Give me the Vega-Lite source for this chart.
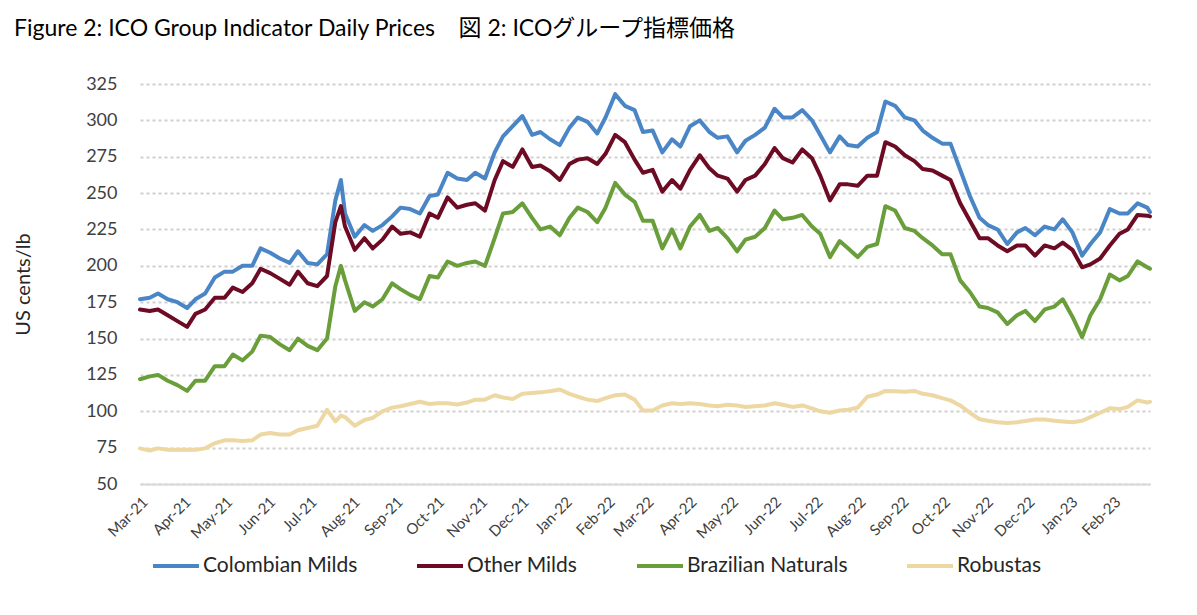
{
  "$schema": "https://vega.github.io/schema/vega-lite/v6.json",
  "width": 1010,
  "height": 400,
  "autosize": {"type": "none"},
  "padding": {"left": 140, "top": 84, "right": 47, "bottom": 131},
  "background": "white",
  "title": {
    "text": "Figure 2: ICO Group Indicator Daily Prices\u00a0\u00a0\u00a0\u00a0図 2: ICOグループ指標価格",
    "anchor": "start",
    "frame": "group",
    "dx": -126,
    "dy": 31,
    "offset": 47,
    "baseline": "alphabetic",
    "font": "Lato, Noto Sans CJK JP",
    "fontSize": 23,
    "fontWeight": "normal",
    "color": "#000000"
  },
  "data": {
    "values": [
      {"date": "2021-03-01", "Colombian Milds": 177, "Other Milds": 170, "Brazilian Naturals": 122, "Robustas": 74.5},
      {"date": "2021-03-08", "Colombian Milds": 178, "Other Milds": 169, "Brazilian Naturals": 124, "Robustas": 73},
      {"date": "2021-03-14", "Colombian Milds": 181, "Other Milds": 170, "Brazilian Naturals": 125, "Robustas": 74.5},
      {"date": "2021-03-21", "Colombian Milds": 177, "Other Milds": 166, "Brazilian Naturals": 121, "Robustas": 73.6},
      {"date": "2021-03-28", "Colombian Milds": 175, "Other Milds": 162, "Brazilian Naturals": 118, "Robustas": 73.6},
      {"date": "2021-04-04", "Colombian Milds": 171, "Other Milds": 158, "Brazilian Naturals": 114, "Robustas": 73.5},
      {"date": "2021-04-10", "Colombian Milds": 177, "Other Milds": 167, "Brazilian Naturals": 121, "Robustas": 73.6},
      {"date": "2021-04-17", "Colombian Milds": 181, "Other Milds": 170, "Brazilian Naturals": 121, "Robustas": 74.5},
      {"date": "2021-04-24", "Colombian Milds": 192, "Other Milds": 178, "Brazilian Naturals": 131, "Robustas": 78},
      {"date": "2021-05-01", "Colombian Milds": 196, "Other Milds": 178, "Brazilian Naturals": 131, "Robustas": 80},
      {"date": "2021-05-07", "Colombian Milds": 196, "Other Milds": 185, "Brazilian Naturals": 139, "Robustas": 80},
      {"date": "2021-05-14", "Colombian Milds": 200, "Other Milds": 182, "Brazilian Naturals": 135, "Robustas": 79.5},
      {"date": "2021-05-21", "Colombian Milds": 200, "Other Milds": 188, "Brazilian Naturals": 141, "Robustas": 80},
      {"date": "2021-05-27", "Colombian Milds": 212, "Other Milds": 198, "Brazilian Naturals": 152, "Robustas": 84},
      {"date": "2021-06-03", "Colombian Milds": 209, "Other Milds": 195, "Brazilian Naturals": 151, "Robustas": 85},
      {"date": "2021-06-10", "Colombian Milds": 205, "Other Milds": 191, "Brazilian Naturals": 146, "Robustas": 84},
      {"date": "2021-06-17", "Colombian Milds": 202, "Other Milds": 187, "Brazilian Naturals": 142, "Robustas": 84},
      {"date": "2021-06-23", "Colombian Milds": 210, "Other Milds": 196, "Brazilian Naturals": 150, "Robustas": 87},
      {"date": "2021-06-30", "Colombian Milds": 202, "Other Milds": 188, "Brazilian Naturals": 145, "Robustas": 88.5},
      {"date": "2021-07-07", "Colombian Milds": 201, "Other Milds": 186, "Brazilian Naturals": 142, "Robustas": 90},
      {"date": "2021-07-14", "Colombian Milds": 208, "Other Milds": 193, "Brazilian Naturals": 150, "Robustas": 101},
      {"date": "2021-07-20", "Colombian Milds": 245, "Other Milds": 230, "Brazilian Naturals": 186, "Robustas": 93},
      {"date": "2021-07-24", "Colombian Milds": 259, "Other Milds": 241, "Brazilian Naturals": 200, "Robustas": 97},
      {"date": "2021-07-27", "Colombian Milds": 236, "Other Milds": 227, "Brazilian Naturals": 190, "Robustas": 96},
      {"date": "2021-08-03", "Colombian Milds": 220, "Other Milds": 211, "Brazilian Naturals": 169, "Robustas": 90},
      {"date": "2021-08-10", "Colombian Milds": 228, "Other Milds": 219, "Brazilian Naturals": 175, "Robustas": 94},
      {"date": "2021-08-16", "Colombian Milds": 224, "Other Milds": 212, "Brazilian Naturals": 172, "Robustas": 95.5},
      {"date": "2021-08-23", "Colombian Milds": 228, "Other Milds": 218, "Brazilian Naturals": 177, "Robustas": 100},
      {"date": "2021-08-30", "Colombian Milds": 234, "Other Milds": 227, "Brazilian Naturals": 188, "Robustas": 102.5},
      {"date": "2021-09-05", "Colombian Milds": 240, "Other Milds": 222, "Brazilian Naturals": 184, "Robustas": 103.5},
      {"date": "2021-09-12", "Colombian Milds": 239, "Other Milds": 223, "Brazilian Naturals": 180, "Robustas": 105},
      {"date": "2021-09-19", "Colombian Milds": 236, "Other Milds": 220, "Brazilian Naturals": 177, "Robustas": 106.5},
      {"date": "2021-09-26", "Colombian Milds": 248, "Other Milds": 236, "Brazilian Naturals": 193, "Robustas": 105},
      {"date": "2021-10-02", "Colombian Milds": 249, "Other Milds": 233, "Brazilian Naturals": 192, "Robustas": 105.5},
      {"date": "2021-10-09", "Colombian Milds": 264, "Other Milds": 247, "Brazilian Naturals": 203, "Robustas": 105.5},
      {"date": "2021-10-16", "Colombian Milds": 260, "Other Milds": 240, "Brazilian Naturals": 200, "Robustas": 104.7},
      {"date": "2021-10-23", "Colombian Milds": 259, "Other Milds": 242, "Brazilian Naturals": 202, "Robustas": 106},
      {"date": "2021-10-29", "Colombian Milds": 264, "Other Milds": 243, "Brazilian Naturals": 203, "Robustas": 108},
      {"date": "2021-11-05", "Colombian Milds": 260, "Other Milds": 238, "Brazilian Naturals": 200, "Robustas": 108},
      {"date": "2021-11-12", "Colombian Milds": 278, "Other Milds": 259, "Brazilian Naturals": 219, "Robustas": 111},
      {"date": "2021-11-18", "Colombian Milds": 289, "Other Milds": 272, "Brazilian Naturals": 236, "Robustas": 109.5},
      {"date": "2021-11-25", "Colombian Milds": 296, "Other Milds": 268, "Brazilian Naturals": 237, "Robustas": 108.5},
      {"date": "2021-12-02", "Colombian Milds": 303, "Other Milds": 280, "Brazilian Naturals": 243, "Robustas": 112},
      {"date": "2021-12-09", "Colombian Milds": 290, "Other Milds": 268, "Brazilian Naturals": 233, "Robustas": 112.6},
      {"date": "2021-12-15", "Colombian Milds": 292, "Other Milds": 269, "Brazilian Naturals": 225, "Robustas": 113},
      {"date": "2021-12-22", "Colombian Milds": 287, "Other Milds": 265, "Brazilian Naturals": 227, "Robustas": 113.8},
      {"date": "2021-12-29", "Colombian Milds": 283, "Other Milds": 259, "Brazilian Naturals": 221, "Robustas": 115},
      {"date": "2022-01-05", "Colombian Milds": 295, "Other Milds": 270, "Brazilian Naturals": 233, "Robustas": 112},
      {"date": "2022-01-11", "Colombian Milds": 302, "Other Milds": 273, "Brazilian Naturals": 240, "Robustas": 110},
      {"date": "2022-01-18", "Colombian Milds": 299, "Other Milds": 274, "Brazilian Naturals": 237, "Robustas": 108},
      {"date": "2022-01-25", "Colombian Milds": 291, "Other Milds": 270, "Brazilian Naturals": 230, "Robustas": 107},
      {"date": "2022-01-31", "Colombian Milds": 302, "Other Milds": 277, "Brazilian Naturals": 240, "Robustas": 109},
      {"date": "2022-02-07", "Colombian Milds": 318, "Other Milds": 290, "Brazilian Naturals": 257, "Robustas": 111},
      {"date": "2022-02-14", "Colombian Milds": 310, "Other Milds": 285, "Brazilian Naturals": 249, "Robustas": 111.5},
      {"date": "2022-02-21", "Colombian Milds": 307, "Other Milds": 273, "Brazilian Naturals": 244, "Robustas": 108},
      {"date": "2022-02-27", "Colombian Milds": 292, "Other Milds": 264, "Brazilian Naturals": 231, "Robustas": 100.5},
      {"date": "2022-03-06", "Colombian Milds": 293, "Other Milds": 266, "Brazilian Naturals": 231, "Robustas": 100.5},
      {"date": "2022-03-13", "Colombian Milds": 278, "Other Milds": 251, "Brazilian Naturals": 212, "Robustas": 104},
      {"date": "2022-03-20", "Colombian Milds": 287, "Other Milds": 259, "Brazilian Naturals": 225, "Robustas": 105.5},
      {"date": "2022-03-26", "Colombian Milds": 282, "Other Milds": 253, "Brazilian Naturals": 212, "Robustas": 105},
      {"date": "2022-04-02", "Colombian Milds": 296, "Other Milds": 266, "Brazilian Naturals": 227, "Robustas": 105.5},
      {"date": "2022-04-09", "Colombian Milds": 300, "Other Milds": 276, "Brazilian Naturals": 235, "Robustas": 105},
      {"date": "2022-04-16", "Colombian Milds": 292, "Other Milds": 267, "Brazilian Naturals": 224, "Robustas": 104},
      {"date": "2022-04-22", "Colombian Milds": 288, "Other Milds": 262, "Brazilian Naturals": 226, "Robustas": 103.5},
      {"date": "2022-04-29", "Colombian Milds": 289, "Other Milds": 260, "Brazilian Naturals": 219, "Robustas": 104.5},
      {"date": "2022-05-06", "Colombian Milds": 278, "Other Milds": 251, "Brazilian Naturals": 210, "Robustas": 104},
      {"date": "2022-05-12", "Colombian Milds": 286, "Other Milds": 259, "Brazilian Naturals": 218, "Robustas": 103},
      {"date": "2022-05-19", "Colombian Milds": 290, "Other Milds": 262, "Brazilian Naturals": 220, "Robustas": 103.5},
      {"date": "2022-05-26", "Colombian Milds": 295, "Other Milds": 270, "Brazilian Naturals": 226, "Robustas": 104},
      {"date": "2022-06-02", "Colombian Milds": 308, "Other Milds": 281, "Brazilian Naturals": 238, "Robustas": 105.5},
      {"date": "2022-06-08", "Colombian Milds": 302, "Other Milds": 274, "Brazilian Naturals": 232, "Robustas": 104.5},
      {"date": "2022-06-15", "Colombian Milds": 302, "Other Milds": 271, "Brazilian Naturals": 233, "Robustas": 103},
      {"date": "2022-06-22", "Colombian Milds": 307, "Other Milds": 280, "Brazilian Naturals": 235, "Robustas": 104},
      {"date": "2022-06-29", "Colombian Milds": 300, "Other Milds": 274, "Brazilian Naturals": 227, "Robustas": 102},
      {"date": "2022-07-05", "Colombian Milds": 290, "Other Milds": 262, "Brazilian Naturals": 222, "Robustas": 100},
      {"date": "2022-07-12", "Colombian Milds": 278, "Other Milds": 245, "Brazilian Naturals": 206, "Robustas": 99},
      {"date": "2022-07-19", "Colombian Milds": 289, "Other Milds": 256, "Brazilian Naturals": 217, "Robustas": 100.5},
      {"date": "2022-07-25", "Colombian Milds": 283, "Other Milds": 256, "Brazilian Naturals": 212, "Robustas": 101},
      {"date": "2022-08-01", "Colombian Milds": 282, "Other Milds": 255, "Brazilian Naturals": 206, "Robustas": 102.5},
      {"date": "2022-08-08", "Colombian Milds": 288, "Other Milds": 262, "Brazilian Naturals": 213, "Robustas": 110},
      {"date": "2022-08-15", "Colombian Milds": 292, "Other Milds": 262, "Brazilian Naturals": 215, "Robustas": 111.5},
      {"date": "2022-08-21", "Colombian Milds": 313, "Other Milds": 285, "Brazilian Naturals": 241, "Robustas": 114},
      {"date": "2022-08-28", "Colombian Milds": 310, "Other Milds": 282, "Brazilian Naturals": 238, "Robustas": 113.8},
      {"date": "2022-09-04", "Colombian Milds": 302, "Other Milds": 276, "Brazilian Naturals": 226, "Robustas": 113.5},
      {"date": "2022-09-11", "Colombian Milds": 300, "Other Milds": 272, "Brazilian Naturals": 224, "Robustas": 114},
      {"date": "2022-09-17", "Colombian Milds": 293, "Other Milds": 266.5, "Brazilian Naturals": 219, "Robustas": 112},
      {"date": "2022-09-24", "Colombian Milds": 288, "Other Milds": 265.5, "Brazilian Naturals": 214, "Robustas": 111},
      {"date": "2022-10-01", "Colombian Milds": 284, "Other Milds": 262, "Brazilian Naturals": 208, "Robustas": 109},
      {"date": "2022-10-07", "Colombian Milds": 284, "Other Milds": 259, "Brazilian Naturals": 208, "Robustas": 107.5},
      {"date": "2022-10-14", "Colombian Milds": 266, "Other Milds": 243, "Brazilian Naturals": 190, "Robustas": 104},
      {"date": "2022-10-21", "Colombian Milds": 248, "Other Milds": 231, "Brazilian Naturals": 182, "Robustas": 99},
      {"date": "2022-10-28", "Colombian Milds": 233, "Other Milds": 219, "Brazilian Naturals": 172, "Robustas": 94.5},
      {"date": "2022-11-03", "Colombian Milds": 228, "Other Milds": 219, "Brazilian Naturals": 171, "Robustas": 93.5},
      {"date": "2022-11-10", "Colombian Milds": 225, "Other Milds": 214, "Brazilian Naturals": 168, "Robustas": 92.5},
      {"date": "2022-11-17", "Colombian Milds": 215, "Other Milds": 210, "Brazilian Naturals": 160, "Robustas": 92},
      {"date": "2022-11-24", "Colombian Milds": 223, "Other Milds": 214, "Brazilian Naturals": 166, "Robustas": 92.5},
      {"date": "2022-11-30", "Colombian Milds": 226, "Other Milds": 214, "Brazilian Naturals": 169, "Robustas": 93.3},
      {"date": "2022-12-07", "Colombian Milds": 221, "Other Milds": 207, "Brazilian Naturals": 162, "Robustas": 94.4},
      {"date": "2022-12-14", "Colombian Milds": 227, "Other Milds": 214, "Brazilian Naturals": 170, "Robustas": 94.4},
      {"date": "2022-12-21", "Colombian Milds": 225, "Other Milds": 212, "Brazilian Naturals": 172, "Robustas": 93.5},
      {"date": "2022-12-27", "Colombian Milds": 232, "Other Milds": 216, "Brazilian Naturals": 177, "Robustas": 93},
      {"date": "2023-01-03", "Colombian Milds": 223, "Other Milds": 211, "Brazilian Naturals": 165, "Robustas": 92.5},
      {"date": "2023-01-10", "Colombian Milds": 207, "Other Milds": 199, "Brazilian Naturals": 151, "Robustas": 93.5},
      {"date": "2023-01-16", "Colombian Milds": 215, "Other Milds": 201, "Brazilian Naturals": 166, "Robustas": 96},
      {"date": "2023-01-23", "Colombian Milds": 223, "Other Milds": 205, "Brazilian Naturals": 177, "Robustas": 99},
      {"date": "2023-01-30", "Colombian Milds": 239, "Other Milds": 214, "Brazilian Naturals": 194, "Robustas": 102},
      {"date": "2023-02-06", "Colombian Milds": 236, "Other Milds": 222, "Brazilian Naturals": 190, "Robustas": 101.5},
      {"date": "2023-02-12", "Colombian Milds": 236, "Other Milds": 225, "Brazilian Naturals": 193, "Robustas": 103},
      {"date": "2023-02-19", "Colombian Milds": 243, "Other Milds": 235, "Brazilian Naturals": 203, "Robustas": 107.5},
      {"date": "2023-02-26", "Colombian Milds": 240, "Other Milds": 234.5, "Brazilian Naturals": 199, "Robustas": 106},
      {"date": "2023-02-28", "Colombian Milds": 237, "Other Milds": 234, "Brazilian Naturals": 198, "Robustas": 106.5}
    ]
  },
  "transform": [
    {"fold": ["Colombian Milds", "Other Milds", "Brazilian Naturals", "Robustas"], "as": ["series", "price"]}
  ],
  "mark": {"type": "line", "strokeWidth": 4, "strokeJoin": "round", "strokeCap": "round"},
  "encoding": {
    "x": {
      "field": "date",
      "type": "temporal",
      "scale": {
        "type": "utc",
        "domain": [
          {"year": 2021, "month": 3, "date": 1, "utc": true},
          {"year": 2023, "month": 2, "date": 28, "utc": true}
        ]
      },
      "axis": {
        "title": null,
        "values": [
          {"year": 2021, "month": 3, "date": 1, "utc": true},
          {"year": 2021, "month": 4, "date": 1, "utc": true},
          {"year": 2021, "month": 5, "date": 1, "utc": true},
          {"year": 2021, "month": 6, "date": 1, "utc": true},
          {"year": 2021, "month": 7, "date": 1, "utc": true},
          {"year": 2021, "month": 8, "date": 1, "utc": true},
          {"year": 2021, "month": 9, "date": 1, "utc": true},
          {"year": 2021, "month": 10, "date": 1, "utc": true},
          {"year": 2021, "month": 11, "date": 1, "utc": true},
          {"year": 2021, "month": 12, "date": 1, "utc": true},
          {"year": 2022, "month": 1, "date": 1, "utc": true},
          {"year": 2022, "month": 2, "date": 1, "utc": true},
          {"year": 2022, "month": 3, "date": 1, "utc": true},
          {"year": 2022, "month": 4, "date": 1, "utc": true},
          {"year": 2022, "month": 5, "date": 1, "utc": true},
          {"year": 2022, "month": 6, "date": 1, "utc": true},
          {"year": 2022, "month": 7, "date": 1, "utc": true},
          {"year": 2022, "month": 8, "date": 1, "utc": true},
          {"year": 2022, "month": 9, "date": 1, "utc": true},
          {"year": 2022, "month": 10, "date": 1, "utc": true},
          {"year": 2022, "month": 11, "date": 1, "utc": true},
          {"year": 2022, "month": 12, "date": 1, "utc": true},
          {"year": 2023, "month": 1, "date": 1, "utc": true},
          {"year": 2023, "month": 2, "date": 1, "utc": true}
        ],
        "labelExpr": "utcFormat(datum.value, '%b-%y')",
        "labelAngle": -45,
        "labelFont": "Lato",
        "labelFontSize": 15,
        "labelColor": "#404040",
        "labelPadding": 10,
        "labelOverlap": false,
        "labelFlush": false,
        "labelBound": false,
        "ticks": false,
        "grid": false,
        "domainColor": "#d9d9d9",
        "domainWidth": 2
      }
    },
    "y": {
      "field": "price",
      "type": "quantitative",
      "scale": {"domain": [50, 325], "nice": false, "zero": false},
      "axis": {
        "title": "US cents/lb",
        "titleFont": "Lato",
        "titleFontSize": 20,
        "titleFontWeight": "normal",
        "titleColor": "#262626",
        "titlePadding": 52,
        "values": [50, 75, 100, 125, 150, 175, 200, 225, 250, 275, 300, 325],
        "labelFont": "Lato",
        "labelFontSize": 18,
        "labelColor": "#404040",
        "labelPadding": 23,
        "ticks": false,
        "domain": false,
        "grid": true,
        "gridDash": [3, 3],
        "gridColor": "#d0d0d0",
        "gridWidth": 2
      }
    },
    "color": {
      "field": "series",
      "type": "nominal",
      "scale": {
        "domain": ["Colombian Milds", "Other Milds", "Brazilian Naturals", "Robustas"],
        "range": ["#4A86C6", "#6E0B24", "#6A9E3B", "#EDD8A3"]
      },
      "legend": {
        "title": null,
        "orient": "none",
        "legendX": 11,
        "legendY": 457,
        "direction": "horizontal",
        "symbolType": "stroke",
        "symbolStrokeWidth": 4,
        "symbolSize": 2116,
        "labelFont": "Lato",
        "labelFontSize": 21,
        "labelColor": "#262626",
        "labelLimit": 300,
        "labelOffset": 2,
        "columnPadding": 51,
        "padding": 0
      }
    }
  },
  "config": {"view": {"stroke": null}}
}
